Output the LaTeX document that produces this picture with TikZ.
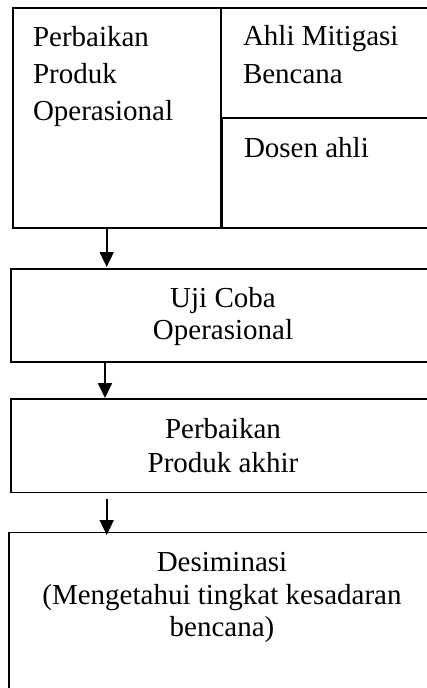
\documentclass[tikz,border=0pt]{standalone}
\usepackage{fontspec}
\setmainfont{Liberation Serif}
\usetikzlibrary{arrows.meta}
\newcommand\txtsz[1]{\fontsize{29}{#1}\selectfont}
\begin{document}
\begin{tikzpicture}[x=1pt,y=-1pt,
  box/.style={draw, line width=1.3pt, rectangle, anchor=north west, inner sep=0pt, outer sep=0pt},
  lbl/.style={inner sep=0pt, outer sep=0pt},
  arr/.style={line width=1.8pt, -{Triangle[width=14pt,length=15pt]}}]
\useasboundingbox (0,0) rectangle (427,688);
\clip (0,0) rectangle (427,688);
% boxes
\node[box, minimum width=208pt, minimum height=220pt] (A) at (13,8) {};
\node[box, minimum width=219pt, minimum height=110pt] (R1) at (221,8) {};
\node[box, minimum width=218pt, minimum height=110pt] (R2) at (222.5,118) {};
\node[box, minimum width=424pt, minimum height=93pt] (B) at (11,269) {};
\node[box, minimum width=424pt, minimum height=93.7pt] (C) at (11,399) {};
\node[box, minimum width=426pt, minimum height=200pt] (D) at (9,532.7) {};
% texts (anchor base = baseline of the last line)
\node[lbl, anchor=base west, align=left, font=\txtsz{37pt}] (tA) at (33,120) {Perbaikan\\Produk\\Operasional};
\node[lbl, anchor=base west, align=left, font=\txtsz{37.5pt}] (tR1) at (243,83.3) {Ahli Mitigasi\\Bencana};
\node[lbl, anchor=base west, font=\txtsz{37pt}] (tR2) at (244,157) {Dosen ahli};
\node[lbl, anchor=base, align=center, font=\txtsz{32pt}] (tB) at (223,339.3) {Uji Coba\\Operasional};
\node[lbl, anchor=base, align=center, font=\txtsz{34pt}] (tC) at (223,472.5) {Perbaikan\\Produk akhir};
\node[lbl, anchor=base, align=center, font=\txtsz{32.5pt}] (tD) at (222,636.7) {Desiminasi\\(Mengetahui tingkat kesadaran\\bencana)};
% arrows
\coordinate (x1) at (106.7,0);
\coordinate (x2) at (105,0);
\coordinate (x3) at (106.7,0);
\draw[arr, shorten >=2pt] (x1 |- A.south) -- (x1 |- B.north);
\draw[arr, shorten >=1pt] (x2 |- B.south) -- (x2 |- C.north);
\draw[arr, shorten <=6.5pt, shorten >=-2.3pt] (x3 |- C.south) -- (x3 |- D.north);
\end{tikzpicture}
\end{document}
